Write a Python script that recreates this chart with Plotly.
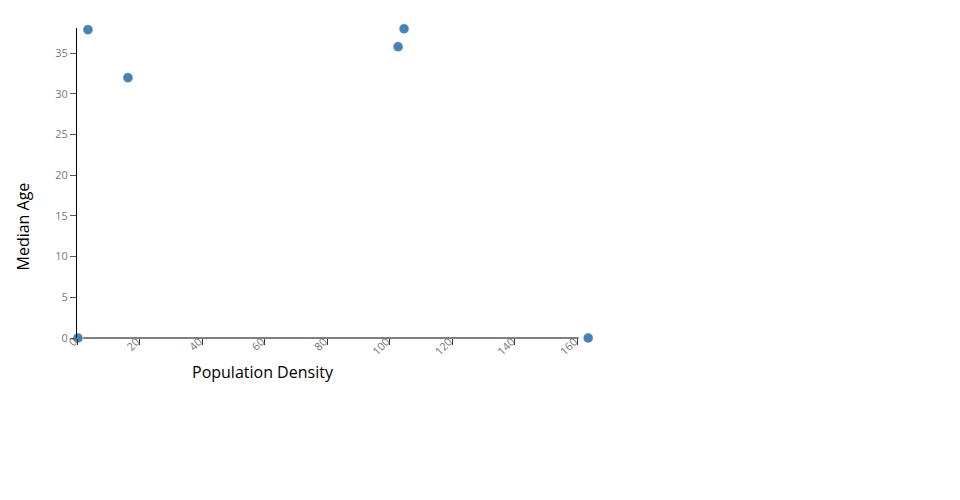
import plotly.graph_objects as go

population_density = [0.3, 3.5, 16.3, 102.7, 104.6, 163.5]
median_age = [0.0, 37.9, 32.0, 35.8, 38.0, 0.0]

x_ticks = [0, 20, 40, 60, 80, 100, 120, 140, 160]
y_ticks = [0, 5, 10, 15, 20, 25, 30, 35]

x_title = "Population Density"
y_title = "Median Age"

x_view = [0, 166]        # visible x extent (points may lie past the axis end)
x_axis_end = 160.45      # where the drawn x-axis line stops
y_view = [0, 38.1]

fig = go.Figure(
    go.Scatter(
        x=population_density,
        y=median_age,
        mode="markers",
        marker=dict(color="#4682b4", size=10, line=dict(color="white", width=0.5)),
        cliponaxis=False,
        hoverinfo="x+y",
    )
)

fig.add_shape(
    type="line", xref="x", yref="paper",
    x0=0, x1=x_axis_end, y0=0, y1=0,
    line=dict(color="black", width=1), layer="below",
)

fig.add_annotation(
    text=x_title, xref="paper", yref="paper", x=0.3584, y=0,
    xanchor="center", yanchor="middle", yshift=-34, showarrow=False,
    font=dict(size=16, color="#000", family="Open Sans"),
)
fig.add_annotation(
    text=y_title, xref="paper", yref="paper", x=0, y=0.3597,
    xanchor="center", yanchor="middle", xshift=-54, textangle=-90, showarrow=False,
    font=dict(size=16, color="#000", family="Open Sans"),
)

fig.update_layout(
    width=960,
    height=500,
    paper_bgcolor="white",
    plot_bgcolor="white",
    showlegend=False,
    font=dict(family="Open Sans", color="#000"),
    margin=dict(l=69, r=372, t=20, b=170),
    xaxis=dict(
        range=x_view,
        automargin=False,
        tickvals=x_ticks,
        ticktext=[str(v) for v in x_ticks],
        tickangle=-45,
        showgrid=False,
        zeroline=False,
        showline=False,
        ticks="outside",
        ticklen=6,
        tickcolor="#333",
        tickfont=dict(size=11, color="#777"),
        ticklabelstandoff=-14,
        ticklabelshift=-3,
    ),
    yaxis=dict(
        range=y_view,
        automargin=False,
        tickvals=y_ticks,
        ticktext=[str(v) for v in y_ticks],
        showgrid=False,
        zeroline=False,
        showline=True,
        linecolor="black",
        linewidth=1,
        ticks="outside",
        ticklen=6,
        tickcolor="#555",
        tickfont=dict(size=11, color="#777"),
    ),
)

fig.write_html("out.html")
